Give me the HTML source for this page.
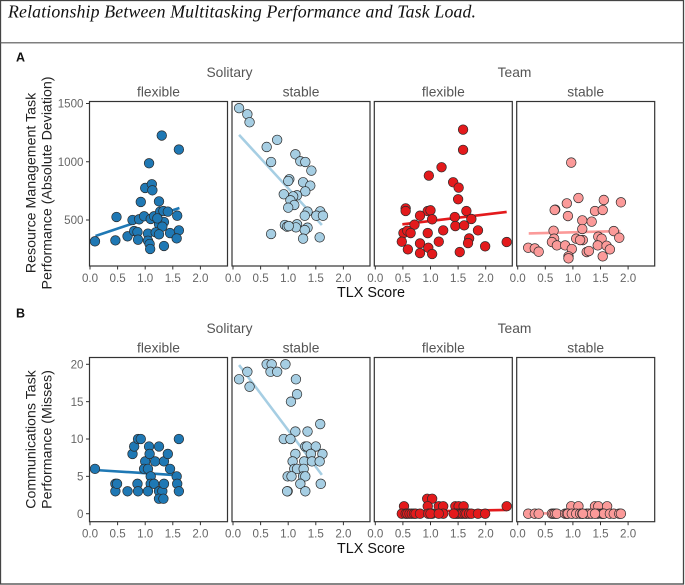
<!DOCTYPE html>
<html>
<head>
<meta charset="utf-8">
<style>
html,body{margin:0;padding:0;background:#fff;width:685px;height:585px;overflow:hidden}
svg{display:block;font-family:"Liberation Sans",sans-serif;filter:blur(0.3px)}
</style>
</head>
<body>
<svg id="chart" width="685" height="585" viewBox="0 0 685 585" xmlns="http://www.w3.org/2000/svg">
<rect x="0.5" y="0.5" width="683" height="583.5" fill="#fff" stroke="#444" stroke-width="1.3"/>
<line x1="0" x2="684" y1="42.8" y2="42.8" stroke="#555" stroke-width="1.1"/>
<text x="8" y="17.5" font-family="'Liberation Serif',serif" font-style="italic" font-size="17.8" textLength="468" lengthAdjust="spacing" fill="#111">Relationship Between Multitasking Performance and Task Load.</text>
<text x="16" y="61.5" font-size="12.5" font-weight="bold" fill="#111">A</text>
<text x="16" y="317.5" font-size="12.5" font-weight="bold" fill="#111">B</text>
<text x="229.5" y="77" font-size="13.8" text-anchor="middle" fill="#555">Solitary</text>
<text x="514.5" y="77" font-size="13.8" text-anchor="middle" fill="#555">Team</text>
<text x="229.5" y="333" font-size="13.8" text-anchor="middle" fill="#555">Solitary</text>
<text x="514.5" y="333" font-size="13.8" text-anchor="middle" fill="#555">Team</text>
<text x="371" y="297" font-size="14.4" text-anchor="middle" fill="#111">TLX Score</text>
<text x="371" y="553" font-size="14.4" text-anchor="middle" fill="#111">TLX Score</text>
<text transform="translate(35.5,183) rotate(-90)" font-size="14.2" text-anchor="middle" fill="#222">Resource Management Task</text>
<text transform="translate(51.5,183) rotate(-90)" font-size="14.2" text-anchor="middle" fill="#222">Performance (Absolute Deviation)</text>
<text transform="translate(35.5,439.5) rotate(-90)" font-size="14.2" text-anchor="middle" fill="#222">Communications Task</text>
<text transform="translate(51.5,439.5) rotate(-90)" font-size="14.2" text-anchor="middle" fill="#222">Performance (Misses)</text>
</svg>
<script>
var xTickValues = [0, 0.5, 1, 1.5, 2];
var xTickLabels = ["0.0", "0.5", "1.0", "1.5", "2.0"];
var rowAYTicks = [500, 1000, 1500];
var rowBYTicks = [0, 5, 10, 15, 20];
var facetNames = ["flexible", "stable", "flexible", "stable"];

var aSolFlexX = [.09,.46,.48,.68,.77,.80,.86,.87,.89,.98,1.05,1.05,1.08,1.09,1.10,1.07,1.00,1.12,1.13,.92,1.25,1.16,1.27,1.33,1.41,1.58,1.61,1.30,1.25,1.34,1.31,1.19,1.25,1.45,1.61,1.57,1.34,1.22];
var aSolFlexY = [317,325,526,360,500,405,397,331,506,532,383,322,294,251,509,987,775,807,755,655,660,532,572,577,572,537,1105,1225,463,483,443,394,377,388,411,342,277,514];
var aSolFlexLineX = [0.10, 1.62];
var aSolFlexLineY = [363, 603];

var aSolStabX = [.11,.26,.30,.80,.61,.69,1.13,1.22,1.31,1.42,1.02,1.00,1.27,1.40,1.31,.92,1.16,1.09,1.04,1.11,1.00,1.58,1.35,1.30,1.51,1.63,.94,.98,1.16,1.14,1.01,1.35,1.30,.69,1.27,1.57];
var aSolStabY = [1460,1408,1339,1188,1127,998,1064,1004,998,924,850,835,824,795,746,721,712,703,669,629,606,574,572,537,537,537,457,443,463,437,448,434,414,380,340,351];
var aSolStabLineX = [0.11, 1.61];
var aSolStabLineY = [1231, 457];

var aTeamFlexX = [1.59,1.59,1.20,.97,1.41,1.51,1.50,.55,.55,.95,1.00,.81,1.65,1.44,1.03,1.74,.71,1.45,1.61,.51,.58,.64,.95,1.23,1.86,1.70,1.68,.48,.81,1.15,2.38,.59,.96,1.99,.81,1.03,1.53];
var aTeamFlexY = [1276,1102,953,881,824,778,678,600,577,577,583,537,577,526,506,509,460,448,454,388,408,388,388,411,411,342,302,314,299,314,311,248,262,274,216,208,225];
var aTeamFlexLineX = [0.49, 2.38];
var aTeamFlexLineY = [463, 569];

var aTeamStabX = [.97,1.10,.89,1.56,1.87,.68,.67,.91,1.40,1.54,1.17,1.34,1.17,.65,1.74,1.84,1.46,1.52,.66,1.06,1.18,1.13,.62,.71,.86,.98,.19,.31,.38,1.45,1.61,1.67,1.25,1.29,1.54,.92,.92];
var aTeamStabY = [993,689,643,672,652,589,586,534,577,586,497,486,423,408,405,348,357,340,340,340,328,328,311,282,282,251,262,256,228,282,279,248,225,234,188,188,171];
var aTeamStabLineX = [0.20, 1.86];
var aTeamStabLineY = [385, 405];

var bSolFlexX = [.09,.46,.46,.49,.68,.77,.80,.86,.87,.87,.92,1.00,.98,1.05,1.07,1.08,1.18,1.25,1.34,1.41,1.45,1.61,1.57,1.58,1.61,1.10,1.10,1.16,1.05,1.25,1.31,1.34,1.25,1.33];
var bSolFlexY = [6,4,3,4,3,8,9,4,3,10,10,7,6,6,9,8,7,9,7,8,6,10,5,4,3,5,4,4,3,3,3,4,2,2];
var bSolFlexLineX = [0.09, 1.57];
var bSolFlexLineY = [5.85, 5.15];

var bSolStabX = [.11,.26,.30,.61,.70,.68,.80,.95,1.14,1.16,1.05,1.58,1.13,1.35,.92,1.04,1.31,1.34,1.50,1.13,1.41,1.62,1.08,1.29,1.43,1.57,1.11,1.16,1.28,.99,1.06,1.27,1.31,1.22,1.59,.99,.98,1.31];
var bSolStabY = [18,19,17,20,20,19,19,20,18,16,15,12,11,11,10,10,9,9,9,8,8,8,7,7,7,7,6,6,6,5,5,5,5,4,4,3,3,3];
var bSolStabLineX = [0.11, 1.61];
var bSolStabLineY = [19.9, 5.2];

var bTeamFlexX = [.94,1.03,.52,.95,1.15,1.23,1.45,1.51,1.60,2.38,.48,.55,.58,.62,.66,.70,.73,.81,.96,1.03,1.00,1.23,1.45,1.48,1.51,1.55,1.58,1.62,1.65,1.70,1.74,1.86,1.99,1.42,1.15];
var bTeamFlexY = [2,2,1,1,1,1,1,1,1,1,0,0,0,0,0,0,0,0,0,0,0,0,0,0,0,0,0,0,0,0,0,0,0,0,0];
var bTeamFlexLineX = [0.48, 2.38];
var bTeamFlexLineY = [0.25, 0.5];

var bTeamStabX = [.97,1.10,1.40,1.46,1.62,.19,.31,.38,.62,.65,.68,.71,.86,.89,.91,.98,1.06,1.13,1.17,1.25,1.29,1.34,1.45,1.52,1.54,1.56,1.67,1.74,1.84,1.87,1.40,1.18];
var bTeamStabY = [1,1,1,1,1,0,0,0,0,0,0,0,0,0,0,0,0,0,0,0,0,0,0,0,0,0,0,0,0,0,0,0];
var bTeamStabLineX = [0.20, 1.87];
var bTeamStabLineY = [0.03, 0.08];

var NS = "http://www.w3.org/2000/svg";
var svg = document.getElementById("chart");

function make(tag, attrs, parent) {
  var el = document.createElementNS(NS, tag);
  for (var k in attrs) { el.setAttribute(k, attrs[k]); }
  (parent || svg).appendChild(el);
  return el;
}

function yScaleA(v) { return 220 - (v - 500) * 0.1165; }
function yScaleB(v) { return 513.7 - v * 7.47; }
function xScaleFor(zero) { return function (v) { return zero + v * 55.2; }; }

function drawPanel(p) {
  var x = xScaleFor(p.zero);
  var g = make("g", {});
  
  

  var title = make("text", {x: p.left + 69, y: p.top - 5, "font-size": 13.8, "text-anchor": "middle", fill: "#555"}, g);
  
  
  title.textContent = p.facet;

  var line = make("line", {
    x1: x(p.lineX[0]), y1: p.y(p.lineY[0]),
    x2: x(p.lineX[1]), y2: p.y(p.lineY[1]),
    stroke: p.color, "stroke-width": 2.6
  }, g);
  
  

  for (var i = 0; i < p.xs.length; i++) {
    var c = make("circle", {cx: x(p.xs[i]), cy: p.y(p.ys[i]), r: 4.8, fill: p.color, stroke: "#2b2b2b", "stroke-width": 0.7}, g);
    
    
  }

  var frame = make("rect", {x: p.left, y: p.top, width: 138, height: p.bottom - p.top, fill: "none", stroke: "#333", "stroke-width": 1.2}, g);
  
  

  xTickValues.forEach(function (t, idx) {
    var tick = make("line", {x1: x(t), x2: x(t), y1: p.bottom, y2: p.bottom + 3.5, stroke: "#333", "stroke-width": 1}, g);
    
    
    var lab = make("text", {x: x(t), y: p.bottom + 16, "font-size": 11.6, "text-anchor": "middle", fill: "#666"}, g);
    
    
    lab.textContent = xTickLabels[idx];
  });

  if (p.yTicks) {
    p.yTicks.forEach(function (t) {
      var tick = make("line", {x1: p.left - 3.5, x2: p.left, y1: p.y(t), y2: p.y(t), stroke: "#333", "stroke-width": 1}, g);
      
      
      var lab = make("text", {x: p.left - 6, y: p.y(t) + 4.1, "font-size": 11.6, "text-anchor": "end", fill: "#666"}, g);
      
      
      lab.textContent = String(t);
    });
  }
}

var blue = "#1f78b4", lightBlue = "#a6cee3", red = "#e31a1c", pink = "#fb9a99";
var rowA = {top: 101.5, bottom: 266, y: yScaleA, ticks: rowAYTicks};
var rowB = {top: 357.5, bottom: 521.7, y: yScaleB, ticks: rowBYTicks};
var cols = [
  {left: 89.5, zero: 90, color: blue},
  {left: 232, zero: 233, color: lightBlue},
  {left: 374.3, zero: 375.3, color: red},
  {left: 516.7, zero: 517.7, color: pink}
];
var seriesA = [
  [aSolFlexX, aSolFlexY, aSolFlexLineX, aSolFlexLineY],
  [aSolStabX, aSolStabY, aSolStabLineX, aSolStabLineY],
  [aTeamFlexX, aTeamFlexY, aTeamFlexLineX, aTeamFlexLineY],
  [aTeamStabX, aTeamStabY, aTeamStabLineX, aTeamStabLineY]
];
var seriesB = [
  [bSolFlexX, bSolFlexY, bSolFlexLineX, bSolFlexLineY],
  [bSolStabX, bSolStabY, bSolStabLineX, bSolStabLineY],
  [bTeamFlexX, bTeamFlexY, bTeamFlexLineX, bTeamFlexLineY],
  [bTeamStabX, bTeamStabY, bTeamStabLineX, bTeamStabLineY]
];

function drawRow(row, series, prefix) {
  cols.forEach(function (col, i) {
    drawPanel({
      name: prefix + "-panel-" + (i + 1),
      facet: facetNames[i],
      left: col.left, zero: col.zero, color: col.color,
      top: row.top, bottom: row.bottom, y: row.y,
      yTicks: i === 0 ? row.ticks : null,
      xs: series[i][0], ys: series[i][1], lineX: series[i][2], lineY: series[i][3]
    });
  });
}
drawRow(rowA, seriesA, "resource-management");
drawRow(rowB, seriesB, "communications");
</script>
</body>
</html>
